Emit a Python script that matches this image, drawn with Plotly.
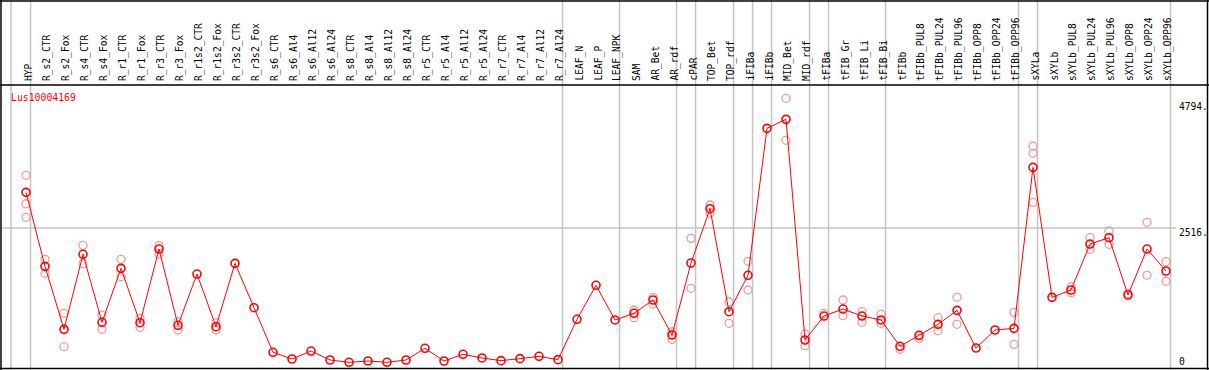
import plotly.graph_objects as go

categories = ["HYP", "R_s2_CTR", "R_s2_Fox", "R_s4_CTR", "R_s4_Fox", "R_r1_CTR", "R_r1_Fox",
              "R_r3_CTR", "R_r3_Fox", "R_r1s2_CTR", "R_r1s2_Fox", "R_r3s2_CTR", "R_r3s2_Fox",
              "R_s6_CTR", "R_s6_Al4", "R_s6_Al12", "R_s6_Al24", "R_s8_CTR", "R_s8_Al4", "R_s8_Al12",
              "R_s8_Al24", "R_r5_CTR", "R_r5_Al4", "R_r5_Al12", "R_r5_Al24", "R_r7_CTR", "R_r7_Al4",
              "R_r7_Al12", "R_r7_Al24", "LEAF_N", "LEAF_P", "LEAF_NPK", "SAM", "AR_Bet", "AR_rdf",
              "cPAR", "TOP_Bet", "TOP_rdf", "iFIBa", "iFIBb", "MID_Bet", "MID_rdf", "tFIBa",
              "tFIB_Gr", "tFIB_Li", "tFIB_Bi", "tFIBb", "tFIBb_PUL8", "tFIBb_PUL24", "tFIBb_PUL96",
              "tFIBb_OPP8", "tFIBb_OPP24", "tFIBb_OPP96", "sXYLa", "sXYLb", "sXYLb_PUL8",
              "sXYLb_PUL24", "sXYLb_PUL96", "sXYLb_OPP8", "sXYLb_OPP24", "sXYLb_OPP96"]

mean_values = [3157, 1827, 695, 2043, 821, 1791, 814, 2138, 767, 1689, 742, 1881, 1084,
               282, 162, 305, 144, 102, 126, 102, 144, 354, 126, 246, 180, 132, 168, 210, 150,
               875, 1486, 863, 983, 1222, 593, 1887, 2863, 1012, 1666, 4307, 4469, 503, 934,
               1060, 934, 863, 390, 587, 785, 1036, 359, 683, 713, 3606, 1270, 1402, 2228,
               2342, 1312, 2138, 1743]

replicates = [[3463, 2952, 2708], [1953, 1702], [983, 383], [2205, 1875], [952, 695],
              [1953, 1641], [893, 731], [2199, 2049], [832, 683], [], [814, 683], [], [],
              [], [], [], [], [], [], [], [], [], [], [], [], [], [], [], [],
              [], [], [], [1042, 904], [1270, 1150], [653, 515], [2330, 1432], [2929, 2780],
              [1186, 803], [1917, 1402], [], [4847, 4092], [611, 401], [983],
              [1222, 940], [1012, 821], [970, 803], [336], [533], [904, 671], [1270, 785],
              [], [], [1000, 425], [3989, 3858, 2977], [], [1461, 1353], [2342, 2133],
              [2462, 2223], [1342], [2618, 1666], [1911, 1558]]

separators_after = [-1.03, 0, 28, 31, 34, 35, 37, 38, 39, 41, 42, 45, 52, 53, 60]
y_ticks = [4794, 2516, 0]
y_tick_text = ["4794.", "2516.", "0"]
gene_name = "Lus10004169"

W, H = 1209, 370
X0, DX = 26.0, 19.0          # pixel of first category, spacing
Y0, KY = 368.0, 140.0 / 2516  # pixel of zero, px per unit

x_rng = [-X0 / DX, (W - X0) / DX]
y_rng = [(Y0 - H) / KY, Y0 / KY]

FONT = "DejaVu Sans Mono"
GRID = "#c4c4c4"

rep_x, rep_y = [], []
for i, reps in enumerate(replicates):
    for v in reps:
        rep_x.append(i)
        rep_y.append(v)

fig = go.Figure()
fig.add_trace(go.Scatter(x=rep_x, y=rep_y, mode="markers",
                         marker=dict(symbol="circle-open", size=8, color="#f09a9a",
                                     line=dict(width=1.3, color="#f09a9a")),
                         hoverinfo="skip", showlegend=False))
fig.add_trace(go.Scatter(x=list(range(len(categories))), y=mean_values, mode="lines+markers",
                         line=dict(color="#ff0000", width=1),
                         marker=dict(symbol="circle-open", size=8, color="#ff0000",
                                     line=dict(width=1.6, color="#ff0000")),
                         showlegend=False))

shapes = []
for s in separators_after:
    xs = s + 0.24
    shapes.append(dict(type="line", xref="x", yref="paper", x0=xs, x1=xs, y0=0, y1=1,
                       line=dict(color=GRID, width=1.5), layer="below"))
shapes.append(dict(type="line", xref="paper", yref="y", x0=1 / W, x1=1176 / W,
                   y0=y_ticks[1], y1=y_ticks[1], line=dict(color=GRID, width=1.5), layer="below"))

def hline(py):
    return dict(type="line", xref="paper", yref="paper", x0=0, x1=1,
                y0=1 - py / H, y1=1 - py / H, line=dict(color="black", width=1.5))

def vline(px):
    return dict(type="line", xref="paper", yref="paper", x0=px / W, x1=px / W,
                y0=0, y1=1, line=dict(color="black", width=1.5))

shapes += [hline(1), hline(85), hline(368.5), vline(1), vline(1207.5)]

annotations = []
for i, c in enumerate(categories):
    annotations.append(dict(x=i, y=1 - 83 / H, xref="x", yref="paper", text=c,
                            showarrow=False, textangle=-90, xanchor="center", yanchor="bottom",
                            xshift=2,
                            font=dict(family=FONT, size=9.6, color="black")))
tick_py = [106.5, 232.5, 361.5]
for t, py in zip(y_tick_text, tick_py):
    annotations.append(dict(x=1177 / W, y=1 - py / H, xref="paper", yref="paper", text=t,
                            showarrow=False, xanchor="left", yanchor="middle",
                            font=dict(family=FONT, size=9.6, color="black")))
annotations.append(dict(x=9 / W, y=1 - 97 / H, xref="paper", yref="paper", text=gene_name,
                        showarrow=False, xanchor="left", yanchor="middle",
                        font=dict(family=FONT, size=9.8, color="#ff0000")))

fig.update_layout(width=W, height=H, margin=dict(l=0, r=0, t=0, b=0),
                  paper_bgcolor="white", plot_bgcolor="white",
                  xaxis=dict(range=x_rng, visible=False, domain=[0, 1]),
                  yaxis=dict(range=y_rng, visible=False, domain=[0, 1]),
                  shapes=shapes, annotations=annotations)
fig.write_html("out.html", config={"displayModeBar": False},
               post_script="document.body.style.margin='0';document.body.style.overflow='hidden';")
